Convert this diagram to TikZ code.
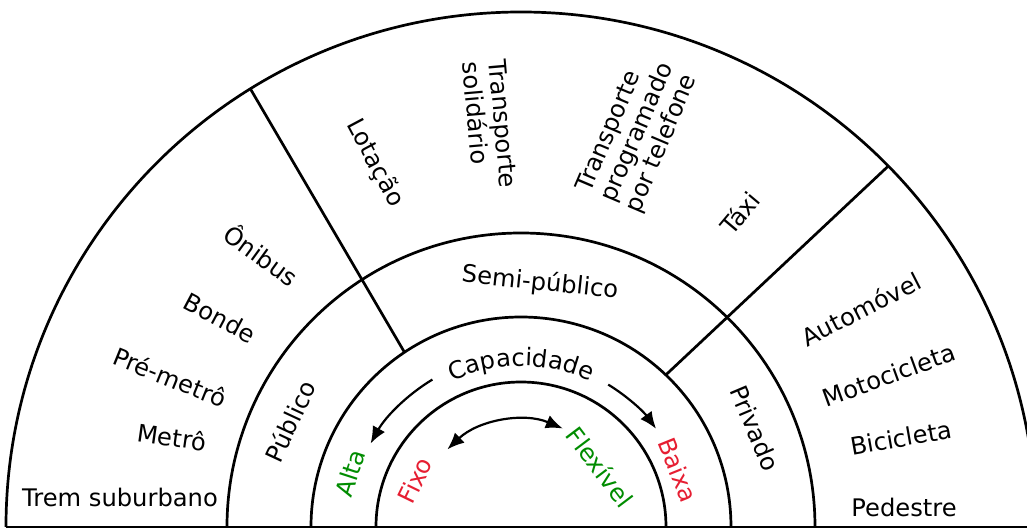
\documentclass[tikz,border=0pt]{standalone}
\usepackage{fontspec}
\setmainfont{DejaVu Sans}
\usetikzlibrary{arrows.meta,decorations.text}
\definecolor{tgreen}{RGB}{0,140,0}
\definecolor{tred}{RGB}{230,30,50}
\begin{document}
\begin{tikzpicture}[x=1pt,y=1pt,
  ring/.style={line width=2.7pt},
  lbl/.style={font=\fontsize{24.2}{26.5}\selectfont, inner sep=0pt},
  arr/.style={line width=2.2pt, -{Latex[length=17pt,width=14pt]}},
  darr/.style={line width=2.2pt, {Latex[length=17pt,width=14pt]}-{Latex[length=17pt,width=14pt]}}]
\useasboundingbox (-521,-3) rectangle (506,527);
\clip (-521,-3) rectangle (506,527);
% rings
\draw[ring] (-515,0) arc[start angle=180,end angle=0,radius=515];
\draw[ring] (-294,0) arc[start angle=180,end angle=0,radius=294];
\draw[ring] (-210,0) arc[start angle=180,end angle=0,radius=210];
\draw[ring] (-145,0) arc[start angle=180,end angle=0,radius=145];
\coordinate (bl) at (-515,0);
\coordinate (br) at (515,0);
\draw[ring] (bl) -- (br);
% dividers
\coordinate (d1a) at (123.7:210);
\coordinate (d1b) at (121.7:515);
\coordinate (d2a) at (46.4:210);
\coordinate (d2b) at (44.5:515);
\draw[ring] (d1a) -- (d1b);
\draw[ring] (d2a) -- (d2b);
% outer ring labels
\node[lbl] (trem) at (-401,30) {Trem suburbano};
\node[lbl,rotate=-8] (metro) at (-349,90) {Metrô};
\node[lbl,rotate=-22] (premetro) at (-351,150) {Pré-metrô};
\node[lbl,rotate=-28] (bonde) at (-301,209) {Bonde};
\node[lbl,rotate=-36] (onibus) at (-259,273) {Ônibus};
\node[lbl,rotate=-62] (lotacao) at (-146,364) {Lotação};
\node[lbl,rotate=-85,align=left] (solid) at (-31,402) {Transporte\\solidário};
\node[lbl,rotate=67,align=left] (tel) at (117,394) {Transporte\\programado\\por telefone};
\node[lbl,rotate=50] (taxi) at (219,314) {Táxi};
\node[lbl,rotate=27] (auto) at (340,218) {Automóvel};
\node[lbl,rotate=20] (moto) at (368,152) {Motocicleta};
\node[lbl,rotate=10] (bici) at (380,89) {Bicicleta};
\node[lbl] (ped) at (383,20) {Pedestre};
% middle ring labels
\node[lbl,rotate=-6] (semi) at (19,244) {Semi-público};
\node[lbl,rotate=65] (pub) at (-231,106) {Público};
\node[lbl,rotate=-67] (priv) at (234,99) {Privado};
% capacity ring
\path[decorate, decoration={text along path, text={|\fontsize{24.2}{26.5}\selectfont|Capacidade}, text align=center}]
  (150:161) arc[start angle=150, end angle=30, radius=161];
\node[lbl,rotate=72,text=tgreen] (alta) at (-171,54) {Alta};
\node[lbl,rotate=-68,text=tred] (baixa) at (157,57) {Baixa};
\node[lbl,rotate=64,text=tred] (fixo) at (-106,47) {Fixo};
\node[lbl,rotate=-53,text=tgreen] (flex) at (79,60) {Flexível};
\coordinate (a1s) at (121:172);
\coordinate (a2s) at (58.5:167);
\coordinate (a3s) at (67:107);
\draw[arr] (a1s) arc[start angle=121, end angle=151, radius=172];
\draw[arr] (a2s) arc[start angle=58.5, end angle=36, radius=167];
\draw[darr] (a3s) arc[start angle=67, end angle=133.5, radius=107];
\end{tikzpicture}
\end{document}
